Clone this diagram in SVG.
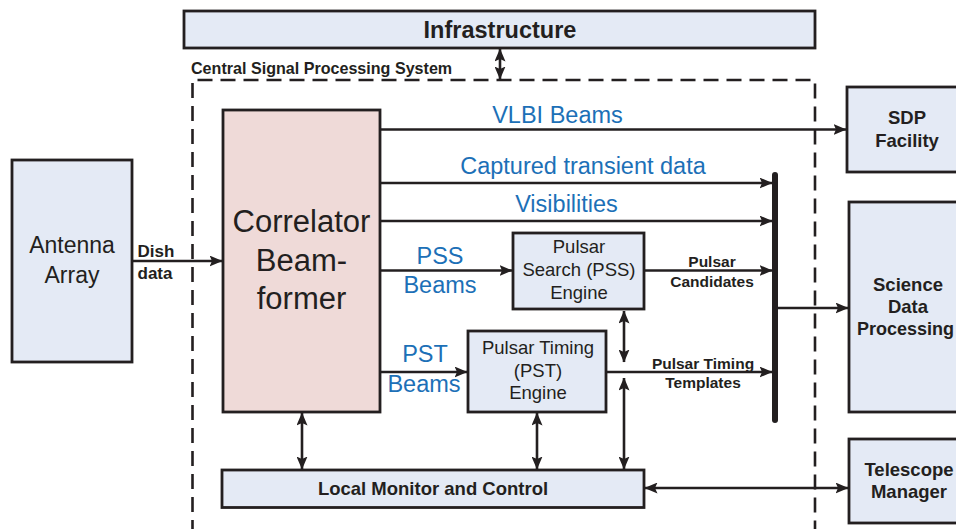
<svg xmlns="http://www.w3.org/2000/svg" width="956" height="529" viewBox="0 0 956 529">
<defs>
<style>
.box{fill:#e4eaf5;stroke:#231f20;stroke-width:2.8}
.corr{fill:#efdad8;stroke:#231f20;stroke-width:2.8}
.ln{fill:none;stroke:#231f20;stroke-width:2.6}
.dash{fill:none;stroke:#231f20;stroke-width:2.6;stroke-dasharray:15 8}
.t{font-family:"Liberation Sans",Arial,sans-serif;fill:#231f20;text-anchor:middle}
.b{font-weight:bold}
.blue{font-family:"Liberation Sans",Arial,sans-serif;fill:#1c70b7;text-anchor:middle;font-size:23.5px}
</style>
<marker id="ah" viewBox="0 0 13 11" refX="12.5" refY="5.5" markerWidth="13" markerHeight="11" markerUnits="userSpaceOnUse" orient="auto-start-reverse">
<path d="M0,0 L13,5.5 L0,11 L2.5,5.5 z" fill="#231f20"/>
</marker>
</defs>

<g id="csp-boundary">
<path class="dash" d="M192.5,535 V80 H815 V535"/>
<text class="t b" x="191" y="74" font-size="16.1" style="text-anchor:start">Central Signal Processing System</text>
</g>

<g id="infrastructure">
<rect class="box" x="184" y="11" width="631" height="37"/>
<text class="t b" x="500" y="37.5" font-size="23.5">Infrastructure</text>
</g>

<g id="antenna-array">
<rect class="box" x="12" y="160" width="120" height="202"/>
<text class="t" x="72" y="253" font-size="23">Antenna</text>
<text class="t" x="72" y="283" font-size="23">Array</text>
</g>

<g id="correlator">
<rect class="corr" x="223" y="110" width="157" height="302"/>
<text class="t" x="301.5" y="232" font-size="31">Correlator</text>
<text class="t" x="301.5" y="271" font-size="31">Beam-</text>
<text class="t" x="301.5" y="309" font-size="31">former</text>
</g>

<g id="pss-engine">
<rect class="box" x="513" y="233" width="131" height="76"/>
<text class="t" x="579" y="253" font-size="18.5">Pulsar</text>
<text class="t" x="579" y="276" font-size="18.5">Search (PSS)</text>
<text class="t" x="579" y="299" font-size="18.5">Engine</text>
</g>

<g id="pst-engine">
<rect class="box" x="468" y="331" width="138" height="81"/>
<text class="t" x="538" y="354" font-size="18.5">Pulsar Timing</text>
<text class="t" x="538" y="377" font-size="18.5">(PST)</text>
<text class="t" x="538" y="399" font-size="18.5">Engine</text>
</g>

<g id="lmc">
<rect class="box" x="222" y="470" width="422" height="37.5"/>
<text class="t b" x="433" y="495" font-size="18.5">Local Monitor and Control</text>
</g>

<g id="sdp-facility">
<rect class="box" x="847" y="87" width="130" height="85"/>
<text class="t b" x="907" y="124" font-size="18.5">SDP</text>
<text class="t b" x="907" y="147" font-size="18.5">Facility</text>
</g>

<g id="science-data-processing">
<rect class="box" x="849" y="202" width="130" height="210"/>
<text class="t b" x="908" y="291" font-size="18.5">Science</text>
<text class="t b" x="908" y="313" font-size="18.5">Data</text>
<text class="t b" x="905.5" y="335" font-size="18">Processing</text>
</g>

<g id="telescope-manager">
<rect class="box" x="849" y="439" width="130" height="84"/>
<text class="t b" x="909" y="476" font-size="18.5">Telescope</text>
<text class="t b" x="909" y="498" font-size="18.5">Manager</text>
</g>

<g id="bus">
<line x1="775" y1="175" x2="775" y2="420" stroke="#231f20" stroke-width="6" stroke-linecap="round"/>
</g>

<g id="connectors">
<line class="ln" x1="500" y1="49" x2="500" y2="79" marker-start="url(#ah)" marker-end="url(#ah)"/>
<line class="ln" x1="132" y1="261" x2="222" y2="261" marker-end="url(#ah)"/>
<line class="ln" x1="380" y1="129.5" x2="846" y2="129.5" marker-end="url(#ah)"/>
<line class="ln" x1="380" y1="183" x2="772" y2="183" marker-end="url(#ah)"/>
<line class="ln" x1="380" y1="221" x2="772" y2="221" marker-end="url(#ah)"/>
<line class="ln" x1="380" y1="270.5" x2="512" y2="270.5" marker-end="url(#ah)"/>
<line class="ln" x1="380" y1="372" x2="467" y2="372" marker-end="url(#ah)"/>
<line class="ln" x1="644" y1="270.5" x2="772" y2="270.5" marker-end="url(#ah)"/>
<line class="ln" x1="606" y1="372" x2="772" y2="372" marker-end="url(#ah)"/>
<line class="ln" x1="778" y1="308" x2="848" y2="308" marker-end="url(#ah)"/>
<line class="ln" x1="624" y1="311" x2="624" y2="362" marker-start="url(#ah)" marker-end="url(#ah)"/>
<line class="ln" x1="624" y1="378" x2="624" y2="469" marker-start="url(#ah)" marker-end="url(#ah)"/>
<line class="ln" x1="537" y1="413" x2="537" y2="469" marker-start="url(#ah)" marker-end="url(#ah)"/>
<line class="ln" x1="302" y1="413" x2="302" y2="469" marker-start="url(#ah)" marker-end="url(#ah)"/>
<line class="ln" x1="645" y1="488" x2="848" y2="488" marker-start="url(#ah)" marker-end="url(#ah)"/>
</g>

<g id="labels">
<text class="t b" x="137.5" y="256.5" font-size="17" style="text-anchor:start">Dish</text>
<text class="t b" x="137.5" y="279" font-size="17" style="text-anchor:start">data</text>
<text class="blue" x="557.5" y="123">VLBI Beams</text>
<text class="blue" x="583" y="174">Captured transient data</text>
<text class="blue" x="566.5" y="212">Visibilities</text>
<text class="blue" x="440" y="264">PSS</text>
<text class="blue" x="440" y="293">Beams</text>
<text class="blue" x="425" y="362">PST</text>
<text class="blue" x="424" y="391.5">Beams</text>
<text class="t b" x="712" y="267" font-size="15.5">Pulsar</text>
<text class="t b" x="712" y="287" font-size="15.5">Candidates</text>
<text class="t b" x="703" y="368.5" font-size="15.5">Pulsar Timing</text>
<text class="t b" x="703" y="388" font-size="15.5">Templates</text>
</g>
</svg>
